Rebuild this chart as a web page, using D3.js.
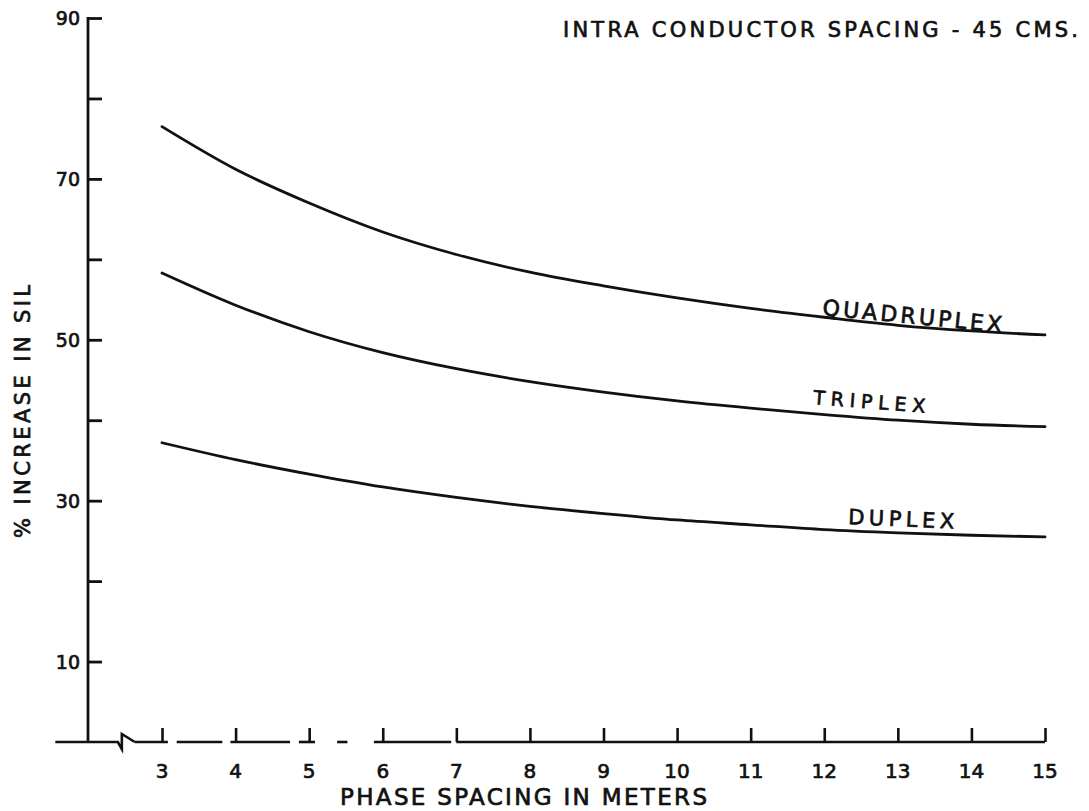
<!DOCTYPE html>
<html>
<head>
<meta charset="utf-8">
<script src="https://cdn.jsdelivr.net/npm/d3@7"></script>
<style>
  html, body { margin: 0; padding: 0; background: #fff; }
  svg { display: block; }
  text { font-family: "DejaVu Sans", "Liberation Sans", sans-serif; fill: #111; stroke: #111; stroke-width: 0.7px; }
</style>
</head>
<body>
<svg id="chart" width="1089" height="811"></svg>
<script>
// Phase spacing (m)
const phaseSpacing = [3, 4, 5, 6, 7, 8, 9, 10, 11, 12, 13, 14, 15];

// % increase in SIL for each bundle type
const quadruplex = [76.5, 71.2, 67.0, 63.4, 60.6, 58.4, 56.7, 55.2, 53.9, 52.8, 51.8, 51.1, 50.6];
const triplex    = [58.3, 54.3, 51.0, 48.4, 46.4, 44.8, 43.5, 42.4, 41.5, 40.7, 40.0, 39.5, 39.2];
const duplex     = [37.2, 35.1, 33.3, 31.7, 30.4, 29.3, 28.4, 27.6, 27.0, 26.4, 26.0, 25.7, 25.5];

const seriesNames = ["QUADRUPLEX", "TRIPLEX", "DUPLEX"];

// Axis ticks
const yTicks = [10, 20, 30, 40, 50, 60, 70, 80, 90];
const yTickLabels = { 10: "10", 30: "30", 50: "50", 70: "70", 90: "90" };
const xTicks = phaseSpacing;

// Hand-drawn baseline: visible pieces of the x axis (in metres), with a break near the origin
const baselinePieces = [[2.63, 3.08], [3.2, 3.82], [3.93, 4.74], [4.86, 5.08], [5.38, 5.52], [5.88, 6.93], [7.0, 15.0]];

const svg = d3.select("#chart");
const ink = "#111";

const x = d3.scaleLinear().domain([3, 15]).range([162, 1045]);
const y = d3.scaleLinear().domain([0, 90]).range([742, 18]);
const axisX0 = 88;

// y axis
const yAxis = d3.axisRight(y).tickValues(yTicks).tickSize(14).tickFormat("");
const gy = svg.append("g").attr("transform", `translate(${axisX0},0)`).call(yAxis);
gy.select(".domain").remove();
gy.selectAll(".tick line").attr("stroke", ink).attr("stroke-width", 2.8);
gy.append("line").attr("x1", 0).attr("x2", 0).attr("y1", y(90) - 1).attr("y2", y(0) + 1)
  .attr("stroke", ink).attr("stroke-width", 2.8);

svg.append("g").selectAll("text").data(yTicks.filter(d => yTickLabels[d]))
  .join("text")
  .attr("x", axisX0 - 8).attr("y", d => y(d) + 7)
  .attr("text-anchor", "end")
  .attr("font-size", 19)
  .text(d => yTickLabels[d]);

// x axis ticks (pointing up)
const xAxis = d3.axisTop(x).tickValues(xTicks).tickSize(14).tickFormat("");
const gx = svg.append("g").attr("transform", `translate(0,${y(0)})`).call(xAxis);
gx.select(".domain").remove();
gx.selectAll(".tick line").attr("stroke", ink).attr("stroke-width", 2.6);

svg.append("g").selectAll("text").data(xTicks)
  .join("text")
  .attr("x", d => x(d)).attr("y", y(0) + 36)
  .attr("text-anchor", "middle")
  .attr("font-size", 20)
  .text(d => d);

// x baseline with break symbol
const base = svg.append("g").attr("stroke", ink).attr("stroke-width", 2.6).attr("fill", "none");
base.selectAll("line.piece").data(baselinePieces).join("line")
  .attr("class", "piece")
  .attr("x1", d => x(d[0])).attr("x2", d => x(d[1]))
  .attr("y1", y(0)).attr("y2", y(0));
const xb0 = x(1.55), xb1 = x(2.40), xb2 = x(2.63);
base.append("path")
  .attr("d", `M${xb0},${y(0)} L${xb1},${y(0)} L${xb1 + 4},${y(0) + 7} L${xb1 + 4},${y(0) - 8} L${xb2},${y(0)}`)
  .attr("stroke-linejoin", "miter");

// curves
const line = d3.line()
  .x((d, i) => x(phaseSpacing[i]))
  .y(d => y(d))
  .curve(d3.curveMonotoneX);

svg.append("g").selectAll("path").data([quadruplex, triplex, duplex])
  .join("path")
  .attr("d", line)
  .attr("fill", "none")
  .attr("stroke", ink)
  .attr("stroke-width", 2.8)
  .attr("stroke-linecap", "round");

// curve labels
const labelSpecs = [
  { name: seriesNames[0], x: 822, y: 315, size: 22, len: 180, rot: 5.5 },
  { name: seriesNames[1], x: 813, y: 404, size: 19, len: 112, rot: 4.5 },
  { name: seriesNames[2], x: 848, y: 524, size: 21, len: 106, rot: 2.5 }
];
svg.append("g").selectAll("text").data(labelSpecs)
  .join("text")
  .attr("transform", d => `translate(${d.x},${d.y}) rotate(${d.rot})`)
  .attr("font-size", d => d.size)
  .attr("textLength", d => d.len)
  .attr("lengthAdjust", "spacing")
  .text(d => d.name);

// titles
svg.append("text")
  .attr("x", 563).attr("y", 37)
  .attr("font-size", 21)
  .attr("textLength", 515)
  .attr("lengthAdjust", "spacing")
  .text("INTRA CONDUCTOR SPACING - 45 CMS.");

svg.append("text")
  .attr("x", 340).attr("y", 805)
  .attr("font-size", 23)
  .attr("textLength", 367)
  .attr("lengthAdjust", "spacing")
  .text("PHASE SPACING IN METERS");

svg.append("text")
  .attr("transform", "translate(30,538) rotate(-90)")
  .attr("font-size", 21)
  .attr("textLength", 253)
  .attr("lengthAdjust", "spacing")
  .text("% INCREASE IN SIL");
</script>
</body>
</html>
